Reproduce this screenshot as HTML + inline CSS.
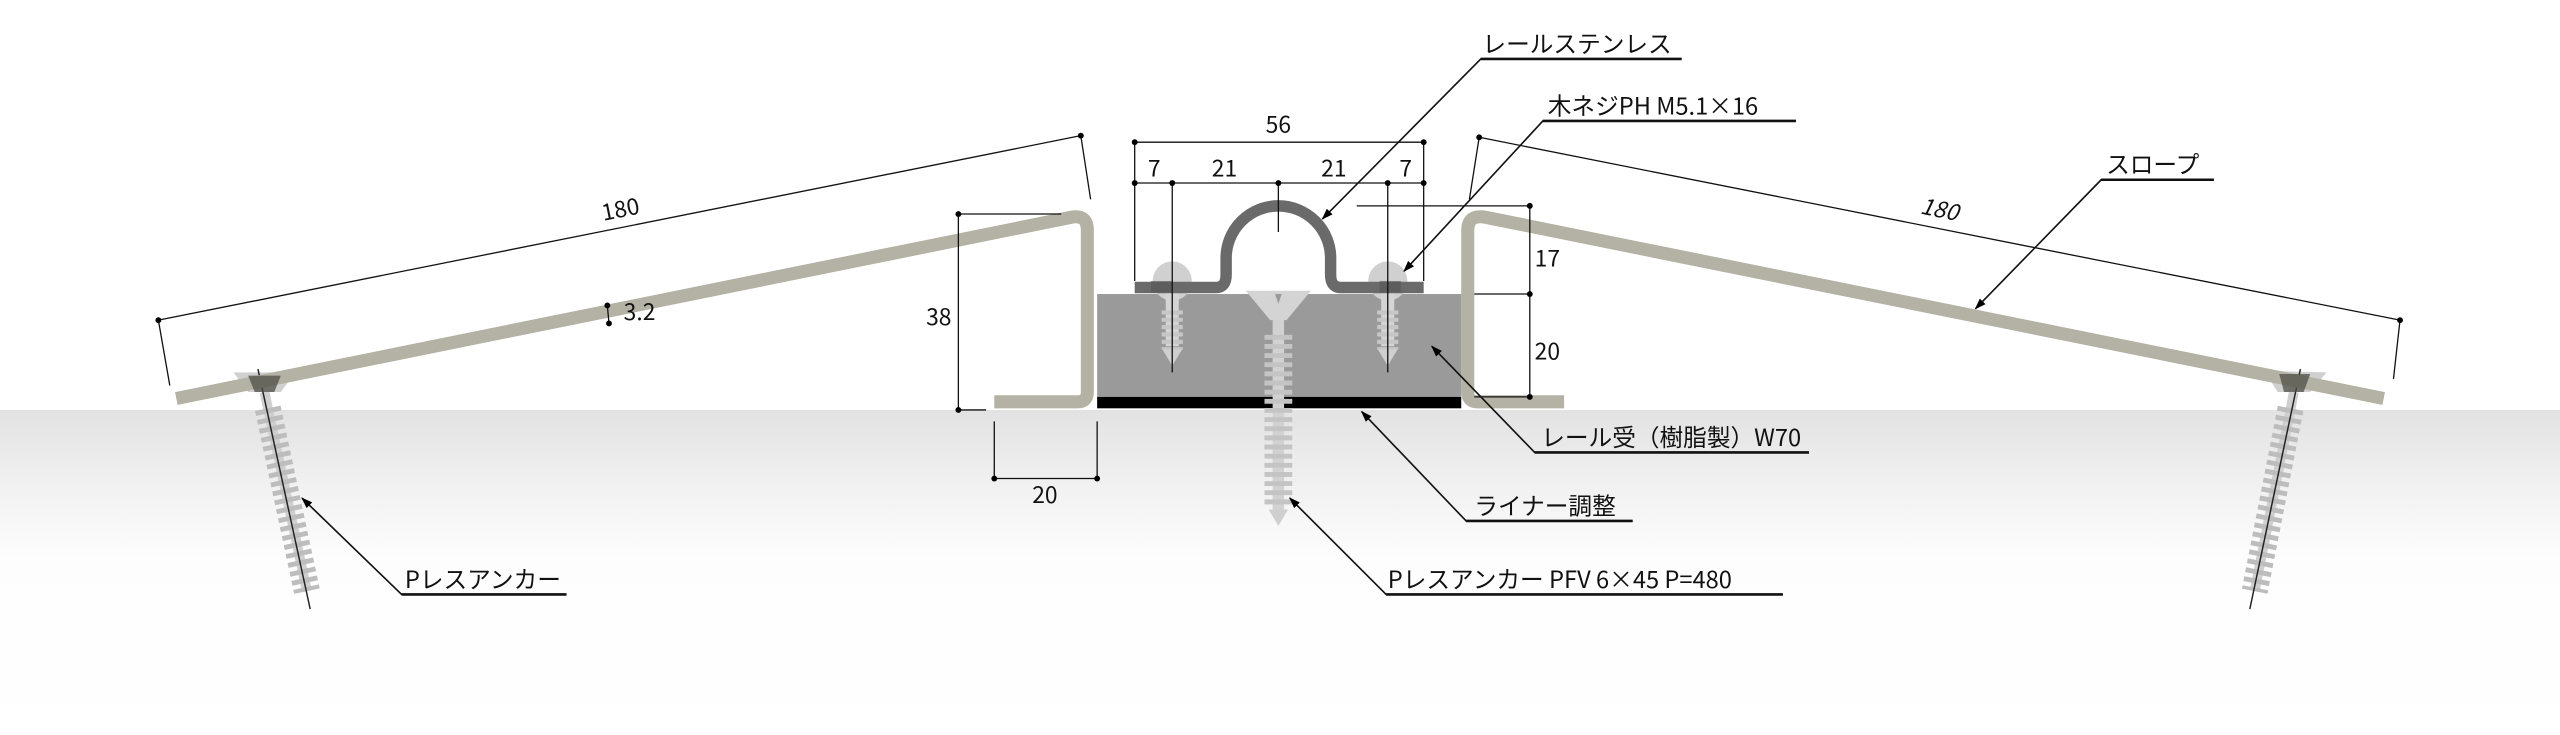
<!DOCTYPE html>
<html><head><meta charset="utf-8"><style>
html,body{margin:0;padding:0;background:#fff;}
svg{display:block;}
text{font-family:"Noto Sans CJK JP","Liberation Sans",sans-serif;fill:#111;}
</style></head><body>
<svg width="2560" height="735" viewBox="0 0 1568 450" xmlns="http://www.w3.org/2000/svg">
<defs>
<linearGradient id="g" x1="0" y1="0" x2="0" y2="1">
<stop offset="0" stop-color="#e2e2e2"/><stop offset="0.2" stop-color="#efefef"/><stop offset="0.45" stop-color="#fdfdfd"/><stop offset="1" stop-color="#fff"/>
</linearGradient>
<marker id="a" viewBox="0 0 10 10" refX="9" refY="5" markerWidth="7" markerHeight="7" orient="auto"><path d="M0,1.5 L10,5 L0,8.5z" fill="#000"/></marker>
</defs>
<rect x="0" y="251" width="1568" height="199" fill="url(#g)"/>

<g>
<line x1="162" y1="240" x2="188" y2="362" stroke="#cfcfcf" stroke-width="6"/>
<line x1="164" y1="250" x2="188" y2="362" stroke="#bdbdbd" stroke-width="16" stroke-dasharray="3 2.6"/>
<path d="M143,228 L181,228 L172,240 L152,240z" fill="#d0d0d0"/>
<line x1="158" y1="226" x2="190" y2="373" stroke="#222" stroke-width="0.9"/>
</g>
<g>
<line x1="1405" y1="240" x2="1381" y2="362" stroke="#cfcfcf" stroke-width="6"/>
<line x1="1403" y1="250" x2="1381" y2="362" stroke="#bdbdbd" stroke-width="16" stroke-dasharray="3 2.6"/>
<path d="M1387,227 L1425,228 L1415,240 L1395,240z" fill="#d0d0d0"/>
<line x1="1409" y1="226" x2="1378" y2="373" stroke="#222" stroke-width="0.9"/>
</g>

<path d="M108,244 L656,133 Q666,131 666,141 L666,240 Q666,246 660,246 L609,246" fill="none" stroke="#b4b2a5" stroke-width="8"/>
<path d="M1460,244 L910,133 Q899,131 899,141 L899,240 Q899,246 905,246 L958,246" fill="none" stroke="#b4b2a5" stroke-width="8"/>
<path d="M152,230 L172,230 L168,240 L156,240z" fill="#4f4d45" opacity=".75"/>
<path d="M1396,229 L1415,229 L1411,240 L1399,240z" fill="#4f4d45" opacity=".75"/>

<rect x="672" y="180" width="223" height="63" fill="#9a9a9a"/>
<rect x="672" y="243" width="223" height="7" fill="#000"/>
<circle cx="718" cy="172" r="12" fill="#d0d0d0"/>
<circle cx="850" cy="172" r="12" fill="#d0d0d0"/>
<line x1="718" y1="178" x2="718" y2="212" stroke="#d4d4d4" stroke-width="8"/>
<line x1="718" y1="190" x2="718" y2="214" stroke="#c6c6c6" stroke-width="13" stroke-dasharray="2.5 2"/>
<path d="M712,214 L724,214 L718,224z" fill="#cfcfcf"/>
<line x1="850" y1="178" x2="850" y2="212" stroke="#d4d4d4" stroke-width="8"/>
<line x1="850" y1="190" x2="850" y2="214" stroke="#c6c6c6" stroke-width="13" stroke-dasharray="2.5 2"/>
<path d="M844,214 L856,214 L850,224z" fill="#cfcfcf"/>
<path d="M695,176 L745,176 Q751,176 751,168 L751,158 A32,32 0 0 1 815,158 L815,168 Q815,176 821,176 L872,176" fill="none" stroke="#6a6a6a" stroke-width="7"/>
<rect x="705" y="172" width="13" height="7" fill="#555" opacity=".6"/>
<rect x="845" y="172" width="13" height="7" fill="#555" opacity=".6"/>
<line x1="783" y1="195" x2="783" y2="312" stroke="#d2d2d2" stroke-width="7"/>
<line x1="783" y1="205" x2="783" y2="310" stroke="#c4c4c4" stroke-width="17" stroke-dasharray="3 2.6"/>
<path d="M763,178 L803,178 L788,196 L778,196z" fill="#d4d4d4"/>
<path d="M781,180 L785,180 L783,186z" fill="#999"/>
<path d="M777,312 L789,312 L783,322z" fill="#cfcfcf"/>

<g stroke="#111" stroke-width="0.8" fill="none">
<line x1="97" y1="196" x2="662" y2="83"/><line x1="97" y1="196" x2="104" y2="236"/><line x1="662" y1="83" x2="668" y2="122"/>
<line x1="906" y1="84" x2="1470" y2="196"/><line x1="906" y1="84" x2="900" y2="122"/><line x1="1470" y1="196" x2="1466" y2="232"/>
<line x1="587" y1="131" x2="587" y2="251"/><line x1="587" y1="131" x2="650" y2="131"/><line x1="587" y1="251" x2="604" y2="251"/>
<line x1="609" y1="258" x2="609" y2="293"/><line x1="672" y1="258" x2="672" y2="293"/><line x1="609" y1="293" x2="672" y2="293"/>
<line x1="695" y1="87" x2="872" y2="87"/><line x1="695" y1="112" x2="872" y2="112"/>
<line x1="695" y1="87" x2="695" y2="172"/><line x1="872" y1="87" x2="872" y2="172"/>
<line x1="718" y1="112" x2="718" y2="228"/><line x1="850" y1="112" x2="850" y2="228"/><line x1="783" y1="112" x2="783" y2="142"/>
<line x1="937" y1="126" x2="937" y2="243"/><line x1="831" y1="126" x2="937" y2="126"/><line x1="903" y1="180" x2="937" y2="180"/><line x1="903" y1="243" x2="937" y2="243"/>
<line x1="372" y1="187" x2="373" y2="198"/>
</g>
<g fill="#000">
<circle cx="97" cy="196" r="1.8"/><circle cx="662" cy="83" r="1.8"/><circle cx="906" cy="84" r="1.8"/><circle cx="1470" cy="196" r="1.8"/>
<circle cx="587" cy="131" r="1.8"/><circle cx="587" cy="251" r="1.8"/><circle cx="609" cy="293" r="1.8"/><circle cx="672" cy="293" r="1.8"/>
<circle cx="695" cy="87" r="1.8"/><circle cx="872" cy="87" r="1.8"/>
<circle cx="695" cy="112" r="1.8"/><circle cx="718" cy="112" r="1.8"/><circle cx="783" cy="112" r="1.8"/><circle cx="850" cy="112" r="1.8"/><circle cx="872" cy="112" r="1.8"/>
<circle cx="937" cy="126" r="1.8"/><circle cx="937" cy="180" r="1.8"/><circle cx="937" cy="243" r="1.8"/>
<circle cx="372" cy="187" r="1.8"/><circle cx="373" cy="198" r="1.8"/>
</g>
<g font-size="14">
<text x="380" y="133" text-anchor="middle" transform="rotate(-11.3 380 128)">180</text>
<text x="1188" y="133" text-anchor="middle" font-style="italic" transform="rotate(11.3 1188 128)">180</text>
<text x="382" y="196">3.2</text>
<text x="575" y="199" text-anchor="middle">38</text>
<text x="640" y="308" text-anchor="middle">20</text>
<text x="783" y="81" text-anchor="middle">56</text>
<text x="707" y="108" text-anchor="middle">7</text>
<text x="750" y="108" text-anchor="middle">21</text>
<text x="817" y="108" text-anchor="middle">21</text>
<text x="861" y="108" text-anchor="middle">7</text>
<text x="940" y="163">17</text>
<text x="940" y="220">20</text>
</g>

<g stroke="#111" stroke-width="1" fill="none">
<polyline points="1030,36 907,36 810,134" marker-end="url(#a)"/>
<polyline points="1100,74 945,74 860,166" marker-end="url(#a)"/>
<polyline points="1356,110 1287,110 1210,189" marker-end="url(#a)"/>
<polyline points="1108,277 940,277 877,212" marker-end="url(#a)"/>
<polyline points="1000,319 898,319 834,252" marker-end="url(#a)"/>
<polyline points="1092,364 849,364 790,305" marker-end="url(#a)"/>
<polyline points="347,364 246,364 185,305" marker-end="url(#a)"/>
</g>
<g stroke="#111" stroke-width="1.6">
<line x1="907" y1="36" x2="1030" y2="36"/><line x1="945" y1="74" x2="1100" y2="74"/><line x1="1287" y1="110" x2="1356" y2="110"/>
<line x1="940" y1="277" x2="1108" y2="277"/><line x1="898" y1="319" x2="1000" y2="319"/><line x1="849" y1="364" x2="1092" y2="364"/><line x1="246" y1="364" x2="347" y2="364"/>
</g>
<g font-size="14.5">
<text x="908" y="32">レールステンレス</text>
<text x="948" y="70">木ネジPH M5.1×16</text>
<text x="1290" y="106">スロープ</text>
<text x="944" y="273">レール受（樹脂製）W70</text>
<text x="903" y="315">ライナー調整</text>
<text x="850" y="360">Pレスアンカー PFV 6×45 P=480</text>
<text x="248" y="360">Pレスアンカー</text>
</g>
</svg>
</body></html>
